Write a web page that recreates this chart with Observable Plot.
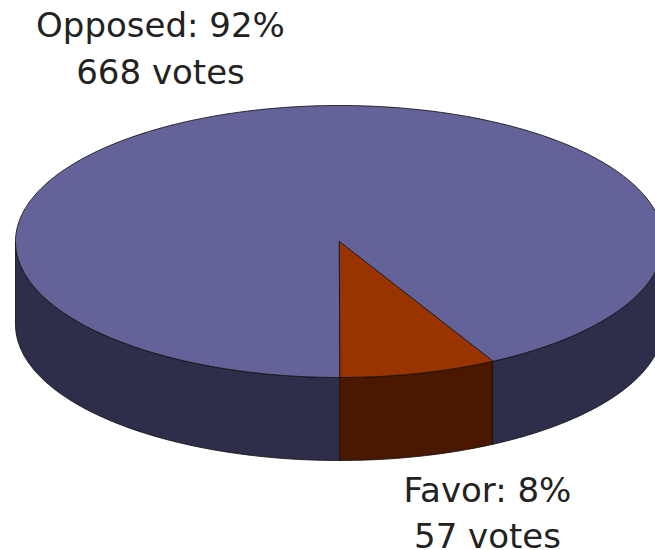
<!DOCTYPE html>
<html><head><meta charset="utf-8">
<script src="https://cdn.jsdelivr.net/npm/d3@7"></script>
<script src="https://cdn.jsdelivr.net/npm/@observablehq/plot@0.6"></script>
<style>html,body{margin:0;padding:0;background:#fff;overflow:hidden}</style>
</head><body><div id="chart"></div>
<script>
// ---- data ----
const categories = ["Opposed", "Favor"];
const votes = [668, 57];
const percents = [92, 8];

// ---- style / layout ----
const W = 655, H = 550;
const cx = 339, cy = 241, rx = 324;          // pixel geometry of the top ellipse
const tilt = 136 / rx, depth = 83 / rx;       // in radius units
const topColors = {Opposed: "#636399", Favor: "#993300"};
const sideColors = {Opposed: "#2e2e4b", Favor: "#4a1800"};
const drawOrder = [1, 0]; // Favor starts at the front, going to the right

const total = d3.sum(votes);
let acc = 0;
const slices = drawOrder.map(i => {
  const a0 = acc / total * 2 * Math.PI;
  acc += votes[i];
  const a1 = acc / total * 2 * Math.PI;
  return {cat: categories[i], a0, a1};
});

const pt = (phi, z) => ({x: Math.sin(phi), y: Math.cos(phi) * tilt + z});
function arc(a, b, z) {
  const n = Math.max(2, Math.ceil(Math.abs(b - a) / (2 * Math.PI) * 720));
  const out = [];
  for (let k = 0; k <= n; k++) out.push(pt(a + (b - a) * k / n, z));
  return out;
}
const visible = [[0, Math.PI / 2], [1.5 * Math.PI, 2 * Math.PI]];

const sides = [], tops = [];
let id = 0;
for (const s of slices) {
  for (const [v0, v1] of visible) {
    const a = Math.max(s.a0, v0), b = Math.min(s.a1, v1);
    if (b <= a) continue;
    const poly = [...arc(a, b, 0), ...arc(b, a, depth)];
    poly.forEach(p => sides.push({...p, id, cat: s.cat}));
    id++;
  }
  const poly = [{x: 0, y: 0}, ...arc(s.a0, s.a1, 0)];
  poly.forEach(p => tops.push({...p, id, cat: s.cat}));
  id++;
}

const labelText = i => `${categories[i]}: ${percents[i]}%\n${votes[i]} votes`;

const lineOpts = (fillMap) => ({
  x: "x", y: "y", z: "id",
  fill: d => fillMap[d.cat],
  stroke: "#111",
  strokeWidth: 1,
  strokeOpacity: 0.85,
  strokeLinejoin: "round",
  curve: "linear-closed"
});

const chart = Plot.plot({
  width: W, height: H,
  margin: 0,
  style: {background: "#fff", fontFamily: "DejaVu Sans, Verdana, sans-serif"},
  x: {domain: [(0 - cx) / rx, (W - cx) / rx], range: [0, W], axis: null},
  y: {domain: [(0 - cy) / rx, (H - cy) / rx], range: [0, H], axis: null},
  color: {type: "identity"},
  marks: [
    Plot.line(sides, lineOpts(sideColors)),
    Plot.line(tops, lineOpts(topColors)),
    Plot.text([labelText(0)], {
      text: d => d, frameAnchor: "top", lineAnchor: "bottom",
      dx: -167.5, dy: 83, fontSize: 34, lineHeight: 1.36, fill: "#222",
      textAnchor: "middle"
    }),
    Plot.text([labelText(1)], {
      text: d => d, frameAnchor: "bottom", lineAnchor: "bottom",
      dx: 159.5, dy: -3, fontSize: 34, lineHeight: 1.33, fill: "#222",
      textAnchor: "middle"
    })
  ]
});
document.getElementById("chart").appendChild(chart);
</script>
</body></html>
